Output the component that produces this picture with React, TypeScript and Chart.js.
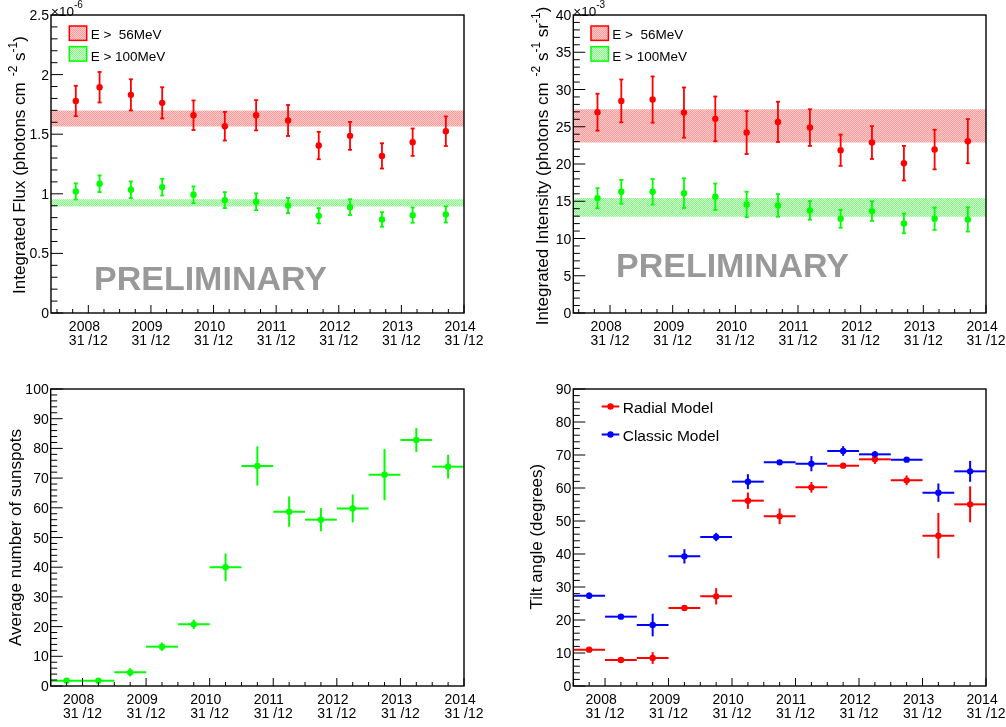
import React, { useEffect, useRef } from "react";
import { Chart, registerables } from "chart.js";

Chart.register(...registerables);

const FONT = '"Liberation Sans", Arial, Helvetica, sans-serif';

// ---------- shared axis labels ----------
const yearEndTicks = [2009, 2010, 2011, 2012, 2013, 2014, 2015];
const yearLabelLine1 = ["2008", "2009", "2010", "2011", "2012", "2013", "2014"];
const yearLabelLine2 = ["31 /12", "31 /12", "31 /12", "31 /12", "31 /12", "31 /12", "31 /12"];

// ---------- top panels: time bins ----------
const fermiX = [2008.8, 2009.18, 2009.68, 2010.18, 2010.68, 2011.18, 2011.68, 2012.19, 2012.68, 2013.18, 2013.69, 2014.18, 2014.71];

// Panel 1: integrated flux (x10^-6)
const flux56 = [1.779, 1.894, 1.83, 1.763, 1.659, 1.567, 1.659, 1.615, 1.405, 1.486, 1.318, 1.433, 1.525];
const flux56Err = [0.127, 0.128, 0.131, 0.131, 0.124, 0.12, 0.127, 0.13, 0.115, 0.117, 0.106, 0.115, 0.124];
const flux100 = [1.02, 1.084, 1.034, 1.056, 0.992, 0.947, 0.933, 0.902, 0.816, 0.888, 0.785, 0.821, 0.827];
const flux100Err = [0.068, 0.07, 0.07, 0.07, 0.07, 0.067, 0.07, 0.064, 0.064, 0.067, 0.061, 0.064, 0.068];
const flux56Band = [1.564, 1.698];
const flux100Band = [0.894, 0.955];
const fluxYTicks = [0, 0.5, 1, 1.5, 2, 2.5];
const fluxYLabels = ["0", "0.5", "1", "1.5", "2", "2.5"];

// Panel 2: integrated intensity (x10^-3)
const int56 = [26.95, 28.47, 28.65, 26.9, 26.06, 24.22, 25.65, 24.89, 21.85, 22.88, 20.11, 21.94, 23.06];
const int56Err = [2.48, 2.88, 3.1, 3.37, 3.0, 2.88, 2.7, 2.46, 2.1, 2.2, 2.32, 2.66, 2.97];
const int100 = [15.42, 16.27, 16.27, 16.09, 15.6, 14.57, 14.44, 13.77, 12.65, 13.68, 12.02, 12.65, 12.56];
const int100Err = [1.34, 1.6, 1.72, 1.99, 1.77, 1.7, 1.52, 1.25, 1.2, 1.32, 1.32, 1.5, 1.63];
const int56Band = [22.88, 27.35];
const int100Band = [12.92, 15.42];
const intYTicks = [0, 5, 10, 15, 20, 25, 30, 35, 40];
const intYLabels = ["0", "5", "10", "15", "20", "25", "30", "35", "40"];

// ---------- bottom panels: half-year bins ----------
const halfYearX = [2008.75, 2009.25, 2009.75, 2010.25, 2010.75, 2011.25, 2011.75, 2012.25, 2012.75, 2013.25, 2013.75, 2014.25, 2014.75];
const halfYearHalfWidth = 0.25;

// Panel 3: sunspots
const sunspots = [1.8, 1.8, 4.6, 13.24, 20.76, 39.96, 74.07, 58.7, 56.0, 59.8, 71.16, 82.83, 73.85];
const sunspotsErr = [0.4, 0.4, 1.4, 1.4, 1.6, 4.66, 6.6, 5.1, 3.9, 4.7, 8.6, 4.0, 4.0];
const sunYTicks = [0, 10, 20, 30, 40, 50, 60, 70, 80, 90, 100];
const sunYLabels = ["0", "10", "20", "30", "40", "50", "60", "70", "80", "90", "100"];

// Panel 4: tilt angle
const tiltRadial = [11.01, 7.88, 8.48, 23.64, 27.17, 56.16, 51.41, 60.2, 66.77, 68.69, 62.32, 45.56, 55.05];
const tiltRadialErr = [0.75, 0.5, 1.77, 0.6, 2.47, 2.47, 2.37, 1.6, 0.6, 1.4, 1.46, 6.87, 5.45];
const tiltClassic = [27.37, 21.01, 18.48, 39.29, 45.15, 61.92, 67.78, 67.37, 71.21, 70.2, 68.59, 58.59, 65.05];
const tiltClassicErr = [0.96, 0.5, 3.43, 2.17, 1.26, 2.27, 0.5, 2.3, 1.46, 1.0, 0.6, 2.78, 3.18];
const tiltYTicks = [0, 10, 20, 30, 40, 50, 60, 70, 80, 90];
const tiltYLabels = ["0", "10", "20", "30", "40", "50", "60", "70", "80", "90"];

const RED = "#ff0000";
const GREEN = "#00ff00";
const BLUE = "#0000ff";

function makePattern(light: string, dark: string): CanvasPattern | string {
  const pc = document.createElement("canvas");
  pc.width = 2;
  pc.height = 2;
  const g = pc.getContext("2d");
  if (!g) return light;
  g.fillStyle = light;
  g.fillRect(0, 0, 2, 2);
  g.fillStyle = dark;
  g.fillRect(0, 0, 1, 1);
  g.fillRect(1, 1, 1, 1);
  return g.createPattern(pc, "repeat") || light;
}

type Seg = { t: string; sup?: boolean; gap?: number };
type Series = { y: number[]; err: number[]; x: number[]; color: string; caps?: boolean; xHalf?: number };
type Band = { lo: number; hi: number; kind: "red" | "green" };
type Spec = {
  canvas: { left: number; top: number; w: number; h: number };
  area: { left: number; top: number; right: number; bottom: number };
  xMin: number;
  xMax: number;
  yMin: number;
  yMax: number;
  yTicks: number[];
  yLabels: string[];
  yMinor: number;
  exponent?: string;
  title: Seg[];
  titleX: number;
  titleY: number;
  series: Series[];
  bands: Band[];
  bandLegend?: { boxX: number; textX: number; items: { text: string; kind: "red" | "green"; top: number; baseline: number }[] };
  markerLegend?: { x1: number; x2: number; textX: number; items: { text: string; color: string; y: number; baseline: number }[] };
  watermark?: { x: number; baseline: number };
};

const specs: Spec[] = [
  {
    canvas: { left: 0, top: 0, w: 503, h: 363 },
    area: { left: 51, top: 15, right: 464, bottom: 313 },
    xMin: 2008.404,
    xMax: 2015,
    yMin: 0,
    yMax: 2.5,
    yTicks: fluxYTicks,
    yLabels: fluxYLabels,
    yMinor: 0.1,
    exponent: "-6",
    title: [
      { t: "Integrated Flux (photons cm" },
      { t: "-2", sup: true, gap: 6 },
      { t: " s", gap: 0 },
      { t: "-1", sup: true },
      { t: ")" },
    ],
    titleX: 25,
    titleY: 165,
    series: [
      { x: fermiX, y: flux56, err: flux56Err, color: RED, caps: true },
      { x: fermiX, y: flux100, err: flux100Err, color: GREEN, caps: true },
    ],
    bands: [
      { lo: flux56Band[0], hi: flux56Band[1], kind: "red" },
      { lo: flux100Band[0], hi: flux100Band[1], kind: "green" },
    ],
    bandLegend: {
      boxX: 69.3,
      textX: 90.7,
      items: [
        { text: "E >  56MeV", kind: "red", top: 26, baseline: 39 },
        { text: "E > 100MeV", kind: "green", top: 46.7, baseline: 60.5 },
      ],
    },
    watermark: { x: 94, baseline: 290 },
  },
  {
    canvas: { left: 503, top: 0, w: 503, h: 363 },
    area: { left: 70.3, top: 15, right: 483, bottom: 313 },
    xMin: 2008.414,
    xMax: 2015,
    yMin: 0,
    yMax: 40,
    yTicks: intYTicks,
    yLabels: intYLabels,
    yMinor: 1,
    exponent: "-3",
    title: [
      { t: "Integrated Intensity (photons cm" },
      { t: "-2", sup: true, gap: 6 },
      { t: " s" },
      { t: "-1", sup: true },
      { t: " sr" },
      { t: "-1", sup: true },
      { t: ")" },
    ],
    titleX: 45,
    titleY: 166,
    series: [
      { x: fermiX, y: int56, err: int56Err, color: RED, caps: true },
      { x: fermiX, y: int100, err: int100Err, color: GREEN, caps: true },
    ],
    bands: [
      { lo: int56Band[0], hi: int56Band[1], kind: "red" },
      { lo: int100Band[0], hi: int100Band[1], kind: "green" },
    ],
    bandLegend: {
      boxX: 88,
      textX: 109.3,
      items: [
        { text: "E >  56MeV", kind: "red", top: 26, baseline: 39 },
        { text: "E > 100MeV", kind: "green", top: 46.7, baseline: 60.5 },
      ],
    },
    watermark: { x: 113, baseline: 276.7 },
  },
  {
    canvas: { left: 0, top: 363, w: 503, h: 364 },
    area: { left: 50.7, top: 26, right: 464, bottom: 323 },
    xMin: 2008.5,
    xMax: 2015,
    yMin: 0,
    yMax: 100,
    yTicks: sunYTicks,
    yLabels: sunYLabels,
    yMinor: 2,
    title: [{ t: "Average number of sunspots" }],
    titleX: 20.5,
    titleY: 174.5,
    series: [{ x: halfYearX, y: sunspots, err: sunspotsErr, color: GREEN, xHalf: halfYearHalfWidth }],
    bands: [],
  },
  {
    canvas: { left: 503, top: 363, w: 503, h: 364 },
    area: { left: 70.3, top: 26, right: 483, bottom: 323 },
    xMin: 2008.5,
    xMax: 2015,
    yMin: 0,
    yMax: 90,
    yTicks: tiltYTicks,
    yLabels: tiltYLabels,
    yMinor: 2,
    title: [{ t: "Tilt angle (degrees)" }],
    titleX: 39,
    titleY: 173.7,
    series: [
      { x: halfYearX, y: tiltRadial, err: tiltRadialErr, color: RED, xHalf: halfYearHalfWidth },
      { x: halfYearX, y: tiltClassic, err: tiltClassicErr, color: BLUE, xHalf: halfYearHalfWidth },
    ],
    bands: [],
    markerLegend: {
      x1: 98.7,
      x2: 116.3,
      textX: 119.7,
      items: [
        { text: "Radial Model", color: RED, y: 43.5, baseline: 50.3 },
        { text: "Classic Model", color: BLUE, y: 71.5, baseline: 78 },
      ],
    },
  },
];

function line(ctx: CanvasRenderingContext2D, x1: number, y1: number, x2: number, y2: number) {
  ctx.beginPath();
  ctx.moveTo(x1, y1);
  ctx.lineTo(x2, y2);
  ctx.stroke();
}

function makeDecor(spec: Spec, patterns: Record<string, any>) {
  return {
    id: "rootDecor",
    afterDatasetsDraw(chart: any) {
      const ctx: CanvasRenderingContext2D = chart.ctx;
      const xs = chart.scales.x;
      const ys = chart.scales.y;
      ctx.save();
      for (const s of spec.series) {
        ctx.strokeStyle = s.color;
        ctx.lineWidth = s.xHalf ? 2 : 1.8;
        s.x.forEach((xv, i) => {
          const px = xs.getPixelForValue(xv);
          const py = ys.getPixelForValue(s.y[i]);
          const y1 = ys.getPixelForValue(s.y[i] - s.err[i]);
          const y2 = ys.getPixelForValue(s.y[i] + s.err[i]);
          line(ctx, px, y1, px, y2);
          if (s.caps) {
            line(ctx, px - 2, y1, px + 2, y1);
            line(ctx, px - 2, y2, px + 2, y2);
          }
          if (s.xHalf) {
            line(ctx, xs.getPixelForValue(xv - s.xHalf), py, xs.getPixelForValue(xv + s.xHalf), py);
          }
        });
      }
      ctx.restore();
    },
    afterDraw(chart: any) {
      const ctx: CanvasRenderingContext2D = chart.ctx;
      const xs = chart.scales.x;
      const ys = chart.scales.y;
      const a = chart.chartArea;
      ctx.save();

      // watermark
      if (spec.watermark) {
        ctx.fillStyle = "#999999";
        ctx.font = `bold 34px ${FONT}`;
        ctx.textAlign = "left";
        ctx.textBaseline = "alphabetic";
        ctx.fillText("PRELIMINARY", spec.watermark.x, spec.watermark.baseline);
      }

      // frame
      ctx.strokeStyle = "#000";
      ctx.lineWidth = 1.4;
      ctx.strokeRect(a.left, a.top, a.right - a.left, a.bottom - a.top);

      // y ticks
      ctx.lineWidth = 1;
      for (const v of spec.yTicks) {
        const py = ys.getPixelForValue(v);
        line(ctx, a.left, py, a.left + 12, py);
      }
      const nMinor = Math.round((spec.yMax - spec.yMin) / spec.yMinor);
      for (let k = 0; k <= nMinor; k++) {
        const v = spec.yMin + k * spec.yMinor;
        if (spec.yTicks.some((t) => Math.abs(t - v) < 1e-9)) continue;
        const py = ys.getPixelForValue(v);
        line(ctx, a.left, py, a.left + 6.5, py);
      }
      // x ticks
      for (const v of yearEndTicks) {
        const px = xs.getPixelForValue(v);
        line(ctx, px, a.bottom, px, a.bottom - 8);
      }
      for (let k = 0; k <= 26; k++) {
        const v = 2008.5 + k * 0.25;
        if (v < spec.xMin || v > spec.xMax) continue;
        if (yearEndTicks.some((t) => Math.abs(t - v) < 1e-9)) continue;
        const px = xs.getPixelForValue(v);
        line(ctx, px, a.bottom, px, a.bottom - 4);
      }

      // tick labels
      ctx.fillStyle = "#000";
      ctx.font = `14px ${FONT}`;
      ctx.textAlign = "right";
      ctx.textBaseline = "alphabetic";
      spec.yTicks.forEach((v, i) => {
        const py = ys.getPixelForValue(v);
        ctx.fillText(spec.yLabels[i], a.left - 2, py + 5);
      });
      ctx.textAlign = "left";
      yearEndTicks.forEach((v, i) => {
        const px = xs.getPixelForValue(v);
        const w2 = ctx.measureText(yearLabelLine2[i]).width;
        ctx.fillText(yearLabelLine1[i], px - w2 / 2, a.bottom + 17.5);
        ctx.fillText(yearLabelLine2[i], px - w2 / 2, a.bottom + 31.5);
      });

      // exponent
      if (spec.exponent) {
        ctx.font = `13.5px ${FONT}`;
        ctx.fillText("\u00d710", a.left, a.top + 0.5);
        const w = ctx.measureText("\u00d710").width;
        ctx.font = `10px ${FONT}`;
        ctx.fillText(spec.exponent, a.left + w, a.top - 7);
      }

      // title (rotated)
      const size = 17;
      const supSize = 12;
      const raise = 8;
      let total = 0;
      for (const s of spec.title) {
        ctx.font = `${s.sup ? supSize : size}px ${FONT}`;
        total += ctx.measureText(s.t).width + (s.gap || 0);
      }
      ctx.save();
      ctx.translate(spec.titleX, spec.titleY);
      ctx.rotate(-Math.PI / 2);
      ctx.textAlign = "left";
      let x = -total / 2;
      for (const s of spec.title) {
        ctx.font = `${s.sup ? supSize : size}px ${FONT}`;
        x += s.gap || 0;
        ctx.fillText(s.t, x, s.sup ? -raise : 0);
        x += ctx.measureText(s.t).width;
      }
      ctx.restore();

      // band legend
      if (spec.bandLegend) {
        const L = spec.bandLegend;
        for (const it of L.items) {
          ctx.fillStyle = patterns[it.kind];
          ctx.fillRect(L.boxX, it.top, 17.4, 14.4);
          ctx.strokeStyle = it.kind === "red" ? RED : GREEN;
          ctx.lineWidth = 1.5;
          ctx.strokeRect(L.boxX, it.top, 17.4, 14.4);
          ctx.fillStyle = "#000";
          ctx.font = `13.5px ${FONT}`;
          ctx.fillText(it.text, L.textX, it.baseline);
        }
      }

      // marker legend
      if (spec.markerLegend) {
        const L = spec.markerLegend;
        for (const it of L.items) {
          ctx.strokeStyle = it.color;
          ctx.lineWidth = 2;
          line(ctx, L.x1, it.y, L.x2, it.y);
          ctx.fillStyle = it.color;
          ctx.beginPath();
          ctx.arc((L.x1 + L.x2) / 2, it.y, 3.2, 0, Math.PI * 2);
          ctx.fill();
          ctx.fillStyle = "#000";
          ctx.font = `15.5px ${FONT}`;
          ctx.fillText(it.text, L.textX, it.baseline);
        }
      }
      ctx.restore();
    },
  };
}

function buildConfig(spec: Spec): any {
  const patterns: Record<string, any> = {
    red: makePattern("#ffcccc", "#ff9a9a"),
    green: makePattern("#ccffcc", "#8cf58c"),
  };
  const datasets: any[] = [];
  for (const b of spec.bands) {
    datasets.push({
      data: [
        { x: spec.xMin, y: b.hi },
        { x: spec.xMax, y: b.hi },
      ],
      order: 10,
      borderColor: "rgba(0,0,0,0)",
      borderWidth: 1,
      pointRadius: 0,
      fill: false,
    });
    datasets.push({
      data: [
        { x: spec.xMin, y: b.lo },
        { x: spec.xMax, y: b.lo },
      ],
      order: 10,
      borderColor: "rgba(0,0,0,0)",
      borderWidth: 1,
      pointRadius: 0,
      backgroundColor: patterns[b.kind],
      fill: "-1",
    });
  }
  for (const s of spec.series) {
    datasets.push({
      data: s.x.map((xv, i) => ({ x: xv, y: s.y[i] })),
      order: 0,
      showLine: false,
      pointRadius: 3.2,
      pointHoverRadius: 3.2,
      pointBorderWidth: 0,
      pointBackgroundColor: s.color,
      borderColor: s.color,
      backgroundColor: s.color,
      fill: false,
    });
  }
  const area = spec.area;
  const cv = spec.canvas;
  return {
    type: "line",
    data: { datasets },
    options: {
      animation: false,
      responsive: false,
      maintainAspectRatio: false,
      events: [],
      layout: { padding: { left: 0, top: area.top, right: cv.w - area.right, bottom: 0 } },
      plugins: { legend: { display: false }, tooltip: { enabled: false }, title: { display: false } },
      scales: {
        x: {
          type: "linear",
          min: spec.xMin,
          max: spec.xMax,
          grid: { display: false },
          border: { display: false },
          ticks: { display: false },
          afterFit: (s: any) => {
            s.height = cv.h - area.bottom;
          },
        },
        y: {
          type: "linear",
          min: spec.yMin,
          max: spec.yMax,
          grid: { display: false },
          border: { display: false },
          ticks: { display: false },
          afterFit: (s: any) => {
            s.width = area.left;
          },
        },
      },
    },
    plugins: [makeDecor(spec, patterns)],
  };
}

function Panel({ spec }: { spec: Spec }) {
  const ref = useRef<HTMLCanvasElement>(null);
  useEffect(() => {
    if (!ref.current) return;
    const chart = new Chart(ref.current, buildConfig(spec));
    return () => chart.destroy();
  }, [spec]);
  const c = spec.canvas;
  return (
    <canvas
      ref={ref}
      width={c.w}
      height={c.h}
      style={{ position: "absolute", left: c.left, top: c.top, width: c.w, height: c.h }}
    />
  );
}

export default function App() {
  return (
    <div style={{ position: "absolute", left: 0, top: 0, width: 1006, height: 727, background: "#fff", overflow: "hidden" }}>
      {specs.map((s, i) => (
        <Panel key={i} spec={s} />
      ))}
    </div>
  );
}
